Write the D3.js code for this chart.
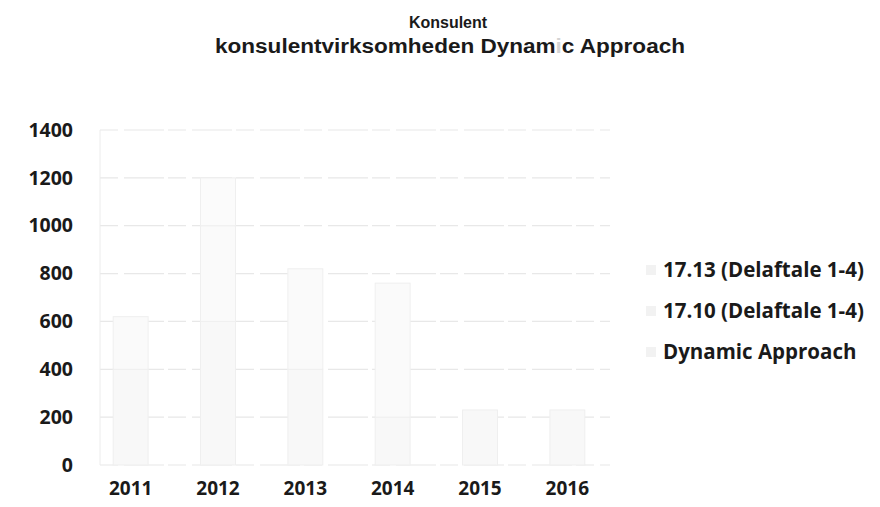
<!DOCTYPE html>
<html>
<head>
<meta charset="utf-8">
<script src="https://cdn.jsdelivr.net/npm/d3@7"></script>
<style>
  body { margin: 0; background: #fff; }
  text { fill: #1a1a1a; }
</style>
</head>
<body>
<div id="chart"></div>
<script>
// values read from a very faded scan, so rough estimates
const years = ["2011", "2012", "2013", "2014", "2015", "2016"];
const seriesNames = ["Dynamic Approach", "17.10 (Delaftale 1-4)", "17.13 (Delaftale 1-4)"];
const dynamicApproach = [400, 600, 400, 200, 230, 230];
const d1710 = [220, 400, 420, 560, 0, 0];
const d1713 = [0, 200, 0, 0, 0, 0];
const yTicks = [0, 200, 400, 600, 800, 1000, 1200, 1400];

const width = 880, height = 507;
const svg = d3.select("#chart").append("svg")
  .attr("width", width)
  .attr("height", height);

const rows = years.map((y, i) => ({
  year: y,
  "Dynamic Approach": dynamicApproach[i],
  "17.10 (Delaftale 1-4)": d1710[i],
  "17.13 (Delaftale 1-4)": d1713[i]
}));

const x = d3.scaleBand().domain(years).range([87, 611]).paddingInner(0.6).paddingOuter(0.3);
const y = d3.scaleLinear().domain([0, 1400]).range([465, 130]);

const fills = { "Dynamic Approach": "#f8f8f8", "17.10 (Delaftale 1-4)": "#fafafa", "17.13 (Delaftale 1-4)": "#fbfbfb" };

// gridlines
svg.append("g").selectAll("line")
  .data(yTicks)
  .join("line")
  .attr("x1", 100).attr("x2", 610)
  .attr("y1", d => y(d)).attr("y2", d => y(d))
  .attr("stroke", "#e8e8e8")
  .attr("stroke-width", 1.2)
  .attr("stroke-dasharray", "18,6,40,4");

// stacked bars
const stacked = d3.stack().keys(seriesNames)(rows);
svg.append("g").selectAll("g")
  .data(stacked)
  .join("g")
  .attr("fill", d => fills[d.key])
  .attr("stroke", "#efefef")
  .selectAll("rect")
  .data(d => d.filter(p => p[1] > p[0]))
  .join("rect")
  .attr("x", d => x(d.data.year))
  .attr("width", x.bandwidth())
  .attr("y", d => y(d[1]))
  .attr("height", d => y(d[0]) - y(d[1]));

// axes
svg.append("line")
  .attr("x1", 100).attr("x2", 100)
  .attr("y1", y(1400)).attr("y2", y(0))
  .attr("stroke", "#ececec");

const yAxis = svg.append("g")
  .attr("transform", "translate(73,0)")
  .call(d3.axisLeft(y).tickValues(yTicks).tickFormat(d3.format("d")).tickSize(0).tickPadding(0));
yAxis.select(".domain").remove();
yAxis.selectAll("text")
  .attr("font-family", "Open Sans")
  .attr("font-weight", 700)
  .attr("font-size", 19.5)
  .attr("fill", "#1a1a1a");

const xAxis = svg.append("g")
  .attr("transform", "translate(0,481)")
  .call(d3.axisBottom(x).tickSize(0).tickPadding(0));
xAxis.select(".domain").remove();
xAxis.selectAll("text")
  .attr("font-family", "Open Sans")
  .attr("font-weight", 700)
  .attr("font-size", 19)
  .attr("fill", "#1a1a1a");

// title (scan is stretched sideways, so line 2 gets a horizontal scale)
svg.append("text")
  .attr("x", 448).attr("y", 28)
  .attr("text-anchor", "middle")
  .attr("font-family", "Liberation Sans")
  .attr("font-weight", 700)
  .attr("font-size", 16)
  .text("Konsulent");
const line2 = svg.append("text")
  .attr("transform", "translate(450,53) scale(1.1,1)")
  .attr("text-anchor", "middle")
  .attr("font-family", "Liberation Sans")
  .attr("font-weight", 700)
  .attr("font-size", 20.5);
line2.append("tspan").text("konsulentvirksomheden Dynam");
line2.append("tspan").style("fill", "#d4d4d4").text("i");
line2.append("tspan").text("c Approach");

// legend
const legendNames = seriesNames.slice().reverse();
const legend = svg.append("g").selectAll("g")
  .data(legendNames)
  .join("g")
  .attr("transform", (d, i) => `translate(646,${270 + i * 41})`);
legend.append("rect")
  .attr("x", 0).attr("y", -5)
  .attr("width", 10).attr("height", 10)
  .attr("fill", "#f2f2f2");
legend.append("text")
  .attr("x", 17).attr("dy", "0.35em")
  .attr("font-family", "Open Sans")
  .attr("font-weight", 700)
  .attr("font-size", 20.5)
  .text(d => d);
</script>
</body>
</html>
